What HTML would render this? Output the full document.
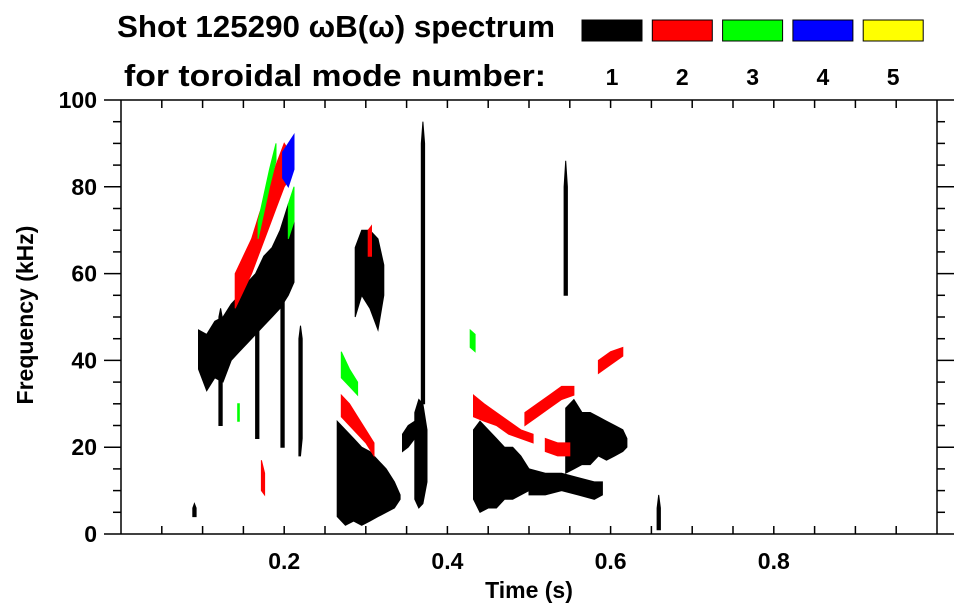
<!DOCTYPE html>
<html><head><meta charset="utf-8">
<style>
html,body{margin:0;padding:0;background:#fff;}
svg{display:block;font-family:"Liberation Sans",sans-serif;font-weight:bold;}
</style></head>
<body>
<svg id="chart" width="963" height="615" viewBox="0 0 963 615" xmlns="http://www.w3.org/2000/svg">
<text x="117" y="37" font-size="31" textLength="438" lengthAdjust="spacingAndGlyphs">Shot 125290 ωB(ω) spectrum</text>
<text x="124" y="86" font-size="31" textLength="422" lengthAdjust="spacingAndGlyphs">for toroidal mode number:</text>
<g id="legend"></g>
<g id="marks"></g>
<g id="axes"></g>
<text transform="translate(33,315) rotate(-90)" text-anchor="middle" font-size="23">Frequency (kHz)</text>
<text x="529" y="598" text-anchor="middle" font-size="23">Time (s)</text>
</svg>
<script>
// Data
const modeNumbers = [1, 2, 3, 4, 5];
const modeColors = ["#000000", "#ff0000", "#00ff00", "#0000ff", "#ffff00"];
const yTickValues = [0, 20, 40, 60, 80, 100];
const xTickValues = [0.2, 0.4, 0.6, 0.8];
// blobs: each is [times[], lowFreq[], highFreq[]]
const mode1Blobs = [
  [[0.095,0.105,0.115,0.125,0.135,0.145,0.155,0.165,0.175,0.185,0.195,0.205,0.212],
   [38,33,36,35,40,42,44,46,48,50,52,55,58],
   [47,46,49,50,53,55,58,60,64,66,70,76,74]],
  [[0.12,0.122,0.124],[25,25,25],[50,52,50]],
  [[0.165,0.167,0.169],[22,22,22],[55,58,55]],
  [[0.196,0.198,0.2],[20,20,20],[60,62,60]],
  [[0.218,0.22,0.222],[18,18,22],[45,48,45]],
  [[0.265,0.275,0.285,0.295,0.305,0.315,0.325,0.335,0.342],
   [4,2,3,2,3,4,5,6,8],
   [26,24,22,20,19,17,15,12,9]],
  [[0.287,0.295,0.305,0.315,0.322],[50,55,52,47,55],[66,70,70,68,62]],
  [[0.345,0.352,0.36],[19,20,22],[23,25,26]],
  [[0.36,0.365,0.37,0.375],[8,6,7,12],[28,31,30,24]],
  [[0.368,0.37,0.372],[30,30,30],[90,95,90]],
  [[0.432,0.44,0.45,0.46,0.47,0.48,0.49,0.5],[8,5,6,6,8,8,9,10],[24,26,24,22,20,20,18,15]],
  [[0.5,0.52,0.54,0.56,0.58,0.59],[9,9,10,9,8,9],[15,14,14,13,12,12]],
  [[0.545,0.555,0.565,0.575,0.585,0.595,0.605,0.615,0.62],[14,15,16,16,18,17,18,19,20],[29,31,28,28,27,26,25,24,22]],
  [[0.543,0.545,0.547],[55,55,55],[80,86,80]],
  [[0.088,0.09,0.092],[4,4,4],[6,7,6]],
  [[0.657,0.659,0.661],[1,1,1],[6,9,6]]
];
const mode2Blobs = [
  [[0.14,0.15,0.16,0.17,0.18,0.19,0.2,0.207],
   [52,56,60,65,70,75,80,82],
   [60,64,68,74,79,85,90,88]],
  [[0.27,0.28,0.29,0.3,0.31],[27,25,23,21,18],[32,30,27,24,21]],
  [[0.172,0.176],[10,9],[17,14]],
  [[0.432,0.445,0.46,0.475,0.49,0.505],[27,26,25,23,22,21],[32,30,28,26,24,23]],
  [[0.495,0.51,0.525,0.54,0.555],[25,27,29,31,32],[28,30,32,34,34]],
  [[0.52,0.535,0.55],[19,18,18],[22,21,21]],
  [[0.303,0.307],[64,64],[70,71]],
  [[0.585,0.6,0.615],[37,39,41],[40,42,43]]
];
const mode3Blobs = [
  [[0.168,0.175,0.182,0.19],[68,74,80,86],[72,78,84,90]],
  [[0.205,0.212],[68,72],[76,80]],
  [[0.27,0.28,0.29],[36,34,32],[42,38,35]],
  [[0.428,0.434],[43,42],[47,46]],
  [[0.143,0.145],[26,26],[30,30]]
];
const mode4Blobs = [
  [[0.198,0.205,0.212],[82,80,84],[88,90,92]]
];
const mode5Blobs = [];

const X0 = 121, X1 = 937, Y0 = 534, Y1 = 100;
const TMIN = 0, TMAX = 1.0, FMIN = 0, FMAX = 100;
function xScale(t){ return X0 + (t - TMIN) / (TMAX - TMIN) * (X1 - X0); }
function yScale(f){ return Y0 - (f - FMIN) / (FMAX - FMIN) * (Y0 - Y1); }
const NS = "http://www.w3.org/2000/svg";

// legend
const leg = document.getElementById('legend');
modeNumbers.forEach((m, i) => {
  const r = document.createElementNS(NS, 'rect');
  r.setAttribute('x', 582 + i * 70.3); r.setAttribute('y', 20);
  r.setAttribute('width', 60); r.setAttribute('height', 21);
  r.setAttribute('fill', modeColors[i]); r.setAttribute('stroke', '#000'); r.setAttribute('stroke-width', 1);
  
  
  leg.appendChild(r);
  const t = document.createElementNS(NS, 'text');
  t.setAttribute('x', 612 + i * 70.3); t.setAttribute('y', 85);
  t.setAttribute('text-anchor', 'middle'); t.setAttribute('font-size', 23);
  t.textContent = m;
  
  
  leg.appendChild(t);
});

// marks
const marks = document.getElementById('marks');
const allBlobs = [mode1Blobs, mode2Blobs, mode3Blobs, mode4Blobs, mode5Blobs];
allBlobs.forEach((blobs, mi) => {
  blobs.forEach((b, bi) => {
    const [ts, lo, hi] = b;
    let pts = [];
    for (let i = 0; i < ts.length; i++) pts.push(xScale(ts[i]).toFixed(1) + ',' + yScale(hi[i]).toFixed(1));
    for (let i = ts.length - 1; i >= 0; i--) pts.push(xScale(ts[i]).toFixed(1) + ',' + yScale(lo[i]).toFixed(1));
    const p = document.createElementNS(NS, 'polygon');
    p.setAttribute('points', pts.join(' '));
    p.setAttribute('fill', modeColors[mi]);
    p.setAttribute('stroke', modeColors[mi]);
    p.setAttribute('stroke-width', 1);
    
    
    marks.appendChild(p);
  });
});

// axes
const ax = document.getElementById('axes');
function line(x1, y1, x2, y2, name){
  const l = document.createElementNS(NS, 'line');
  l.setAttribute('x1', x1); l.setAttribute('y1', y1); l.setAttribute('x2', x2); l.setAttribute('y2', y2);
  l.setAttribute('stroke', '#000'); l.setAttribute('stroke-width', 1.5);
  
  
  ax.appendChild(l);
}
line(X0, Y1, X1, Y1, 'top-axis');
line(X0, Y0, X1, Y0, 'x-axis');
line(X0, Y1, X0, Y0, 'y-axis');
line(X1, Y1, X1, Y0, 'right-axis');
for (let f = 0; f <= 100; f += 5) {
  const major = f % 20 === 0, len = major ? 17 : 8, y = yScale(f);
  line(X0 - len, y, X0, y, 'y-tick');
  line(X1, y, X1 + len, y, 'right-tick');
}
for (let k = 1; k < 20; k++) {
  const t = k * 0.05, x = xScale(t);
  line(x, Y0, x, Y0 - 8, 'x-tick');
  line(x, Y1, x, Y1 + 8, 'top-tick');
}
yTickValues.forEach(v => {
  const t = document.createElementNS(NS, 'text');
  t.setAttribute('x', X0 - 24); t.setAttribute('y', yScale(v) + 8);
  t.setAttribute('text-anchor', 'end'); t.setAttribute('font-size', 23);
  t.textContent = v;
  
  
  ax.appendChild(t);
});
xTickValues.forEach(v => {
  const t = document.createElementNS(NS, 'text');
  t.setAttribute('x', xScale(v)); t.setAttribute('y', 569);
  t.setAttribute('text-anchor', 'middle'); t.setAttribute('font-size', 23);
  t.textContent = v.toFixed(1);
  
  
  ax.appendChild(t);
});
</script>
</body></html>
